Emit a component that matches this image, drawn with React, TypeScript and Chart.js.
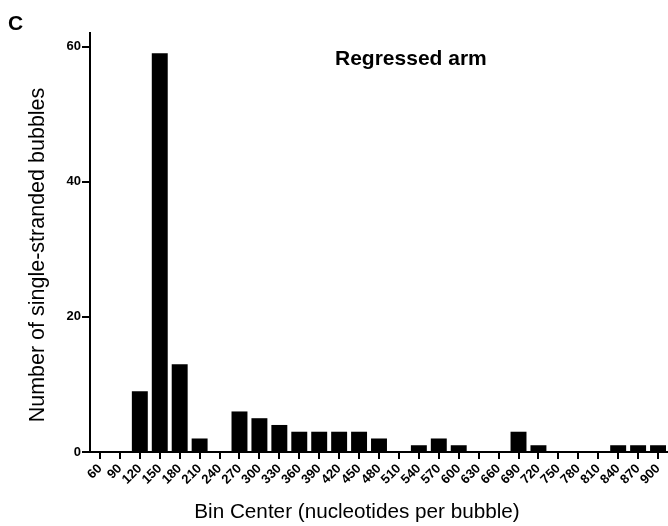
import React, { useEffect, useRef } from "react";
import { Chart, registerables } from "chart.js";

Chart.register(...registerables);

const binCenters: string[] = [
  "60", "90", "120", "150", "180", "210", "240", "270", "300", "330",
  "360", "390", "420", "450", "480", "510", "540", "570", "600", "630",
  "660", "690", "720", "750", "780", "810", "840", "870", "900",
];
const bubbleCounts: number[] = [
  0, 0, 9, 59, 13, 2, 0, 6, 5, 4,
  3, 3, 3, 3, 2, 0, 1, 2, 1, 0,
  0, 3, 1, 0, 0, 0, 1, 1, 1,
];
const yTicks: number[] = [0, 20, 40, 60];

const panelLabel = "C";
const chartTitle = "Regressed arm";
const yTitle = "Number of single-stranded bubbles";
const xTitle = "Bin Center (nucleotides per bubble)";

const FONT = "'Liberation Sans', Arial, Helvetica, sans-serif";

export default function App() {
  const ref = useRef<HTMLCanvasElement | null>(null);

  useEffect(() => {
    if (!ref.current) return;
    const textPlugin = {
      id: "texts",
      afterDraw(chart: any) {
        const ctx = chart.ctx as CanvasRenderingContext2D;
        ctx.save();
        ctx.fillStyle = "#000";
        ctx.textBaseline = "alphabetic";
        ctx.textAlign = "left";
        ctx.font = `bold 21px ${FONT}`;
        ctx.fillText(panelLabel, 8, 30);
        ctx.font = `bold 21px ${FONT}`;
        ctx.fillText(chartTitle, 335, 65);
        ctx.font = `20.7px ${FONT}`;
        ctx.textAlign = "center";
        ctx.textBaseline = "middle";
        ctx.fillText(xTitle, 357, 512);
        ctx.font = `21.5px ${FONT}`;
        ctx.translate(38, 255);
        ctx.rotate(-Math.PI / 2);
        ctx.fillText(yTitle, 0, 0);
        ctx.restore();
      },
    };

    const chart = new Chart(ref.current, {
      type: "bar",
      data: {
        labels: binCenters,
        datasets: [
          {
            data: bubbleCounts,
            backgroundColor: "#000",
            borderWidth: 0,
            barPercentage: 0.8,
            categoryPercentage: 1,
          },
        ],
      },
      options: {
        animation: false,
        responsive: true,
        maintainAspectRatio: false,
        layout: { padding: { top: 33, left: 0, right: 0, bottom: 0 } },
        plugins: {
          legend: { display: false },
          tooltip: { enabled: false },
        },
        scales: {
          x: {
            offset: true,
            border: { color: "#000", width: 2 },
            grid: {
              display: true,
              offset: false,
              drawOnChartArea: false,
              drawTicks: true,
              tickLength: 7,
              color: "#000",
              lineWidth: 2,
            },
            ticks: {
              autoSkip: false,
              maxRotation: 45,
              minRotation: 45,
              color: "#000",
              padding: 2,
              font: { family: FONT, size: 13, weight: "bold" },
            },
            afterFit(scale: any) {
              scale.height = 74;
              scale.paddingLeft = 0;
              scale.paddingRight = 0;
            },
          },
          y: {
            min: 0,
            max: 62,
            border: { color: "#000", width: 2 },
            grid: {
              display: true,
              drawOnChartArea: false,
              drawTicks: true,
              tickLength: 8,
              color: "#000",
              lineWidth: 2,
            },
            afterBuildTicks(scale: any) {
              scale.ticks = yTicks.map((v) => ({ value: v }));
            },
            ticks: {
              includeBounds: false,
              color: "#000",
              padding: 1,
              font: { family: FONT, size: 13, weight: "bold" },
            },
            afterFit(scale: any) {
              scale.width = 90;
              scale.paddingTop = 0;
              scale.paddingBottom = 0;
            },
          },
        },
      },
      plugins: [textPlugin],
    });
    return () => chart.destroy();
  }, []);

  return (
    <div style={{ position: "absolute", left: 0, top: 0, width: 668, height: 526, background: "#fff" }}>
      <canvas ref={ref} />
    </div>
  );
}
